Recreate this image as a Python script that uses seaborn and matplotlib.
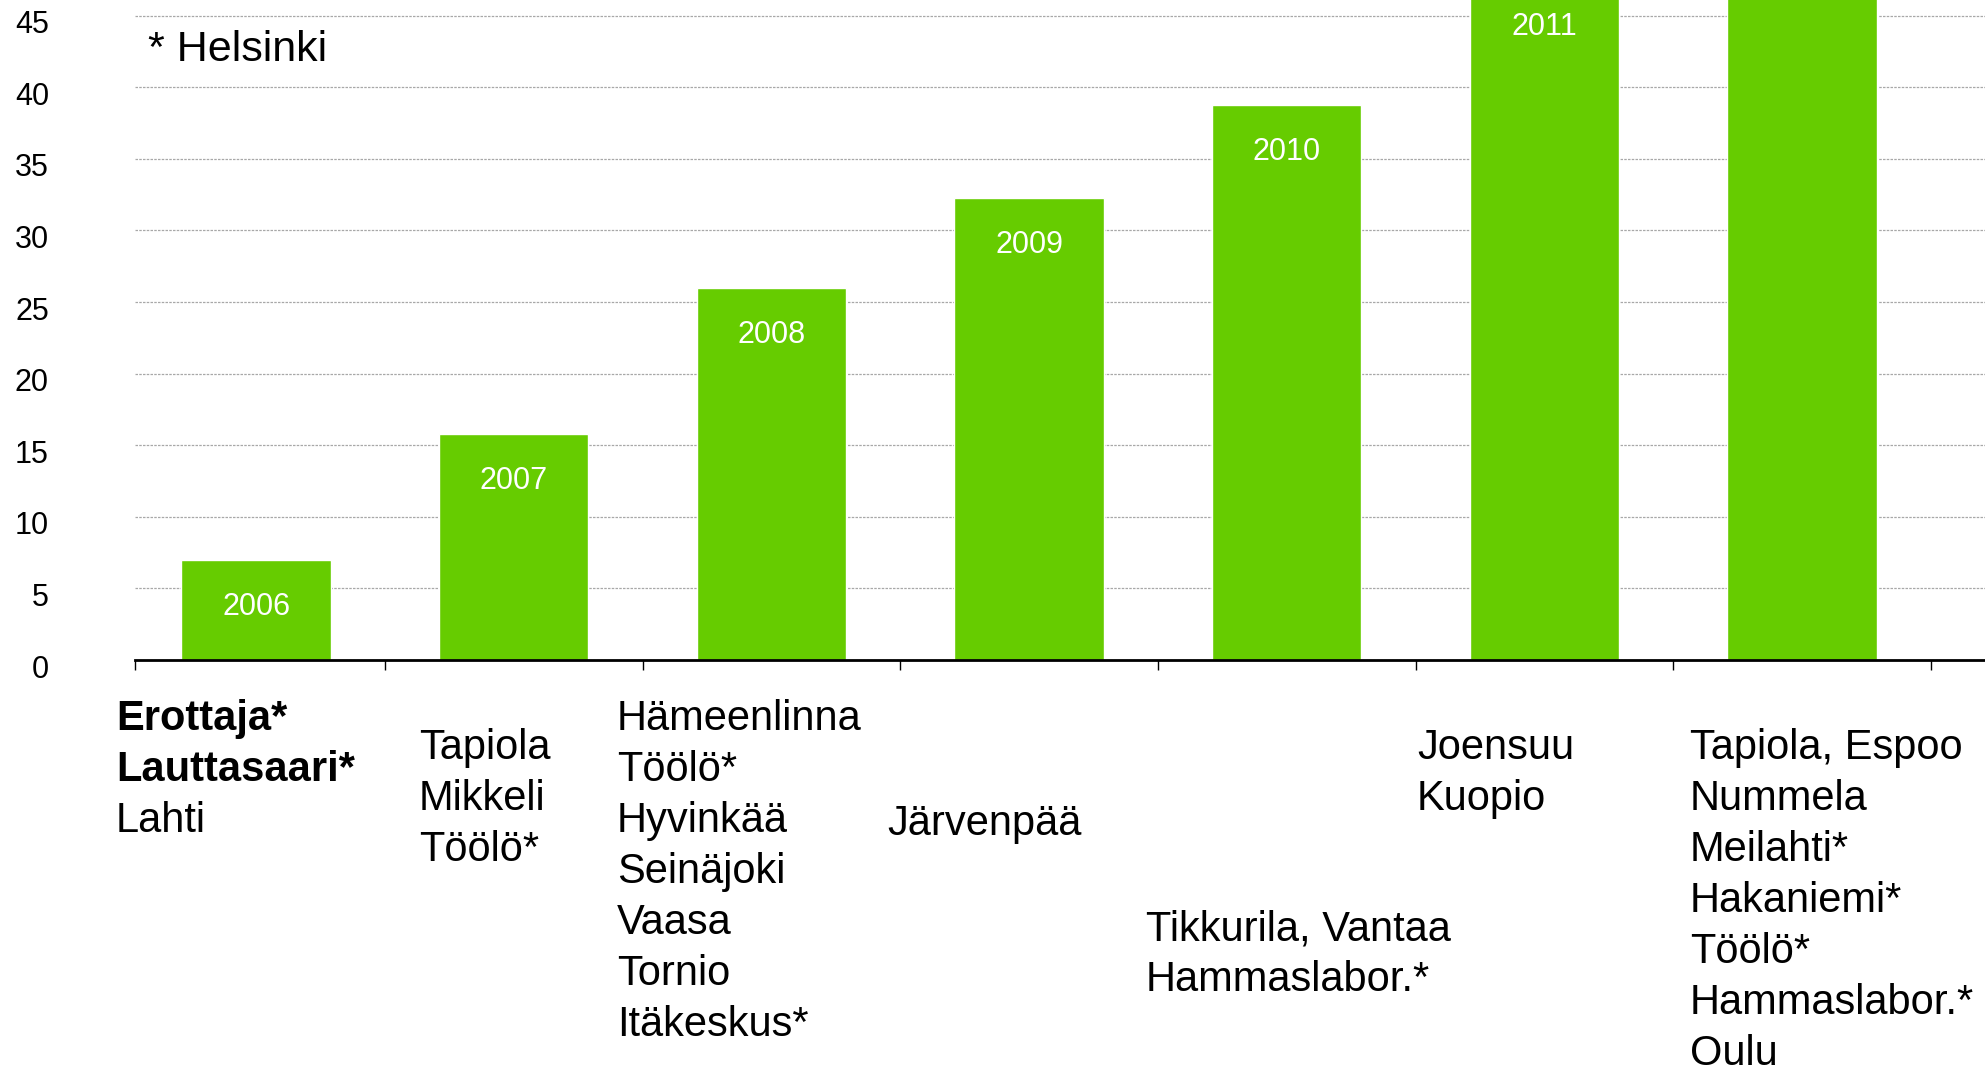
import matplotlib
matplotlib.use("Agg")
import matplotlib.pyplot as plt
import matplotlib.transforms as mtransforms
import numpy as np
import pandas as pd
import seaborn as sns

# data
years = ["2006", "2007", "2008", "2009", "2010", "2011", "2012"]
values = [7, 15.8, 26, 32.3, 38.8, 47.5, 56]
places = [
    ["Erottaja*", "Lauttasaari*", "Lahti"],
    ["Tapiola", "Mikkeli", "Töölö*"],
    ["Hämeenlinna", "Töölö*", "Hyvinkää", "Seinäjoki", "Vaasa", "Tornio", "Itäkeskus*"],
    ["Järvenpää"],
    ["Tikkurila, Vantaa", "Hammaslabor.*"],
    ["Joensuu", "Kuopio"],
    ["Tapiola, Espoo", "Nummela", "Meilahti*", "Hakaniemi*", "Töölö*", "Hammaslabor.*", "Oulu"],
]
bold_lines = {(0, 0), (0, 1)}
footnote = "* Helsinki"

# layout of the place labels (left offset in bar units, first line centre in px)
label_dx = [-0.544, -0.368, -0.600, -0.552, -0.547, -0.495, -0.436]
label_y0 = [715, 744, 715, 820, 925, 744, 744]
line_step = 51

GREEN = "#66cc00"
W, H = 1985, 1069
XMIN, XMAX, YMAX = -0.47, 6.71, 46.1

sns.set_style("white")
plt.rcParams["font.family"] = ["Liberation Sans", "DejaVu Sans"]
plt.rcParams["text.color"] = "black"
plt.rcParams["xtick.color"] = "black"
plt.rcParams["ytick.color"] = "black"

fig = plt.figure(figsize=(W / 100, H / 100), dpi=100)
ax = fig.add_axes([135 / W, 1 - 660 / H, 1 - 135 / W, 660 / H])

df = pd.DataFrame({"year": years, "value": values})
sns.barplot(data=df, x="year", y="value", color=GREEN, saturation=1,
            width=0.58, ax=ax)

ax.set_xlim(XMIN, XMAX)
ax.set_ylim(0, YMAX)
ax.set_yticks(np.arange(0, 46, 5))
ax.tick_params(axis="y", length=0, labelsize=22, pad=62, left=False)
for lab in ax.get_yticklabels():
    lab.set_transform(lab.get_transform()
                      + mtransforms.ScaledTranslation(0, -0.06, fig.dpi_scale_trans))
ax.yaxis.grid(True, color="#a8a8a8", linewidth=0.9, linestyle=(0, (2, 1)))
ax.set_axisbelow(True)

ax.set_xticks([XMIN] + list(np.arange(len(years)) + 0.5))
ax.set_xticklabels([])
ax.tick_params(axis="x", bottom=True, length=7, width=1, color="black",
               direction="out")
ax.set_xlabel("")
ax.set_ylabel("")

for s in ["left", "right", "top"]:
    ax.spines[s].set_visible(False)
ax.spines["bottom"].set_color("black")
ax.spines["bottom"].set_linewidth(2)

# year labels inside bars (only those that fall inside the view)
for i, (yr, v) in enumerate(zip(years, values)):
    if v - 3.3 < YMAX - 1:
        ax.text(i, v - 3.3, yr, color="white", fontsize=22, ha="center",
                va="center", clip_on=True)

ax.text((148 - 135) / (W - 135), 1 - 50 / 660, footnote, transform=ax.transAxes,
        fontsize=31, va="center", ha="left")

# place names under the axis
trans = mtransforms.blended_transform_factory(ax.transData, fig.transFigure)
for i, lines in enumerate(places):
    for j, line in enumerate(lines):
        ypx = label_y0[i] + j * line_step + 15
        ax.text(i + label_dx[i], 1 - ypx / H, line, transform=trans,
                fontsize=30, ha="left", va="baseline",
                fontweight="bold" if (i, j) in bold_lines else "normal",
                clip_on=False)

fig.savefig("out.png", dpi=100)
